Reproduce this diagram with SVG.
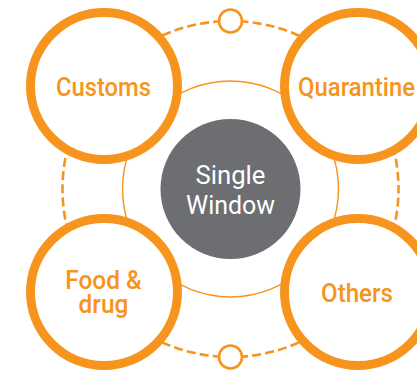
<svg xmlns="http://www.w3.org/2000/svg" width="417" height="371" viewBox="0 0 417 371">
<style>
.big{fill:#fff;stroke:#f7941d;stroke-width:9}
.t{font-family:Roboto,"Liberation Sans",sans-serif;font-size:26px;font-weight:500;text-anchor:middle;fill:#f7941d}
.w{fill:#fff;font-weight:400}
</style>
<rect width="417" height="371" fill="#fff"/>
<g id="connectors" fill="none" stroke="#f7941d">
<circle cx="230.5" cy="189" r="108" stroke-width="1.4"/>
<circle cx="230.5" cy="189" r="168" stroke-width="2.6" stroke-dasharray="9 4.195" stroke-dashoffset="4.5"/>
</g>
<g id="hub-top"><circle cx="230.5" cy="21" r="11.5" fill="#fff" stroke="#f7941d" stroke-width="2.6"/></g>
<g id="hub-bottom"><circle cx="230.5" cy="357" r="11.5" fill="#fff" stroke="#f7941d" stroke-width="2.6"/></g>
<g id="customs"><circle class="big" cx="104" cy="86" r="73.5"/><text class="t" x="103.5" y="96" textLength="95" lengthAdjust="spacingAndGlyphs">Customs</text></g>
<g id="quarantine"><circle class="big" cx="358" cy="86" r="73.5"/><text class="t" transform="translate(356.5 96) scale(.92 1)">Quarantine</text></g>
<g id="food"><circle class="big" cx="104" cy="292" r="73.5"/><text class="t" transform="translate(103.5 289) scale(.94 1)"><tspan x="0" y="0">Food &amp;</tspan><tspan x="0" y="24">drug</tspan></text></g>
<g id="others"><circle class="big" cx="358" cy="292" r="73.5"/><text class="t" x="357" y="302" textLength="72" lengthAdjust="spacingAndGlyphs">Others</text></g>
<g id="single-window"><circle cx="230.5" cy="189" r="70" fill="#6d6e71"/><text class="t w" x="230.5" y="184" textLength="70" lengthAdjust="spacingAndGlyphs">Single</text><text class="t w" x="230.5" y="214" textLength="89" lengthAdjust="spacingAndGlyphs">Window</text></g>
</svg>
